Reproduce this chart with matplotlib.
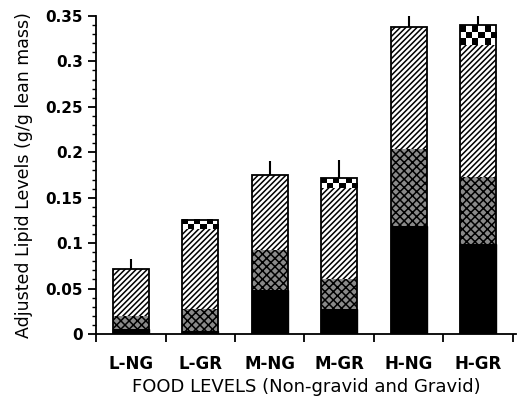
import numpy as np
import matplotlib
matplotlib.use('Agg')
import matplotlib.pyplot as plt
from matplotlib.ticker import MultipleLocator, FormatStrFormatter

groups = ['L-NG', 'L-GR', 'M-NG', 'M-GR', 'H-NG', 'H-GR']
black = [0.006, 0.003, 0.048, 0.027, 0.119, 0.099]
stipple = [0.014, 0.024, 0.044, 0.034, 0.085, 0.074]
hatched = [0.051, 0.088, 0.083, 0.100, 0.134, 0.145]
eggs = [0.0, 0.010, 0.0, 0.011, 0.0, 0.022]
err_up = [0.011, 0.0, 0.015, 0.019, 0.013, 0.011]

plt.rcParams['hatch.linewidth'] = 1.1

fig = plt.figure(figsize=(5.22, 3.99), dpi=100)
ax = fig.add_axes([0.184, 0.163, 0.805, 0.797])

x = np.arange(len(groups))
w = 0.52
black = np.array(black)
stipple = np.array(stipple)
hatched = np.array(hatched)
eggs = np.array(eggs)

ax.bar(x, black, w, color='black', edgecolor='black', lw=1, zorder=2)
ax.bar(x, stipple, w, bottom=black, color='#8a8a8a', edgecolor='black',
       hatch='xxxx', lw=0, zorder=2)
ax.bar(x, hatched, w, bottom=black + stipple, color='white', edgecolor='black',
       hatch='//////', lw=0, zorder=2)

# checkerboard segment for the gravid groups
cell = 0.0066
for xi, b, h in zip(x, black + stipple + hatched, eggs):
    if h <= 0:
        continue
    rows = max(1, int(round(h / cell)))
    cb = 1 - np.indices((rows, 6)).sum(axis=0) % 2
    ax.imshow(cb, cmap='gray_r', interpolation='nearest', aspect='auto',
              extent=(xi - w / 2, xi + w / 2, b, b + h), zorder=2, vmin=0, vmax=1)

totals = black + stipple + hatched + eggs
ax.bar(x, totals, w, fill=False, edgecolor='black', lw=1.3, zorder=3)
ax.errorbar(x, totals, yerr=[np.zeros(len(x)), err_up], fmt='none',
            ecolor='black', elinewidth=1.5, capsize=0, zorder=4)

ax.set_xlim(-0.5, len(groups) - 0.45)
ax.set_ylim(0, 0.35)
ax.set_xticks(x)
ax.set_xticklabels(groups, fontsize=12, fontweight='bold')
ax.set_xticks(np.arange(len(groups) + 1) - 0.5, minor=True)
ax.tick_params(axis='x', which='major', length=0, pad=15)
ax.tick_params(axis='x', which='minor', length=6, width=1.3, direction='out')

ax.yaxis.set_major_locator(MultipleLocator(0.05))
ax.yaxis.set_minor_locator(MultipleLocator(0.01))
ax.yaxis.set_major_formatter(FormatStrFormatter('%g'))
for lab in ax.get_yticklabels():
    lab.set_fontweight('bold')
    lab.set_fontsize(11)
ax.tick_params(axis='y', which='major', length=6, width=1.3, direction='out')
ax.tick_params(axis='y', which='minor', length=3, width=1, direction='out')

for s in ['top', 'right']:
    ax.spines[s].set_visible(False)
for s in ['left', 'bottom']:
    ax.spines[s].set_linewidth(1.3)

ax.set_xlabel('FOOD LEVELS (Non-gravid and Gravid)', fontsize=13, labelpad=4)
ax.set_ylabel('Adjusted Lipid Levels (g/g lean mass)', fontsize=12.5, labelpad=9)

fig.savefig('out.png', dpi=100)
